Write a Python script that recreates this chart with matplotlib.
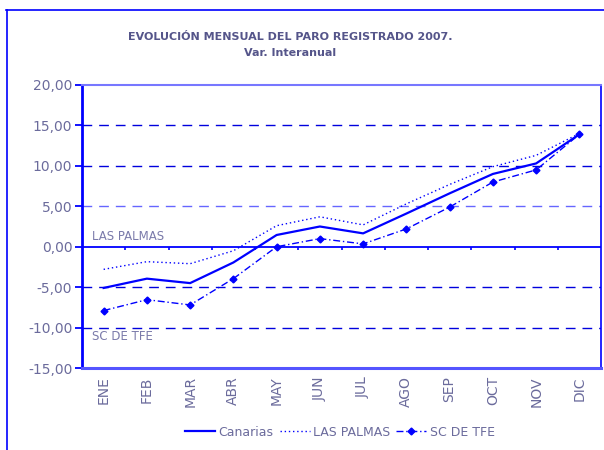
import numpy as np
import matplotlib.pyplot as plt
from matplotlib.lines import Line2D

plt.rcParams['font.family'] = ['DejaVu Sans']

months = ['ENE', 'FEB', 'MAR', 'ABR', 'MAY', 'JUN', 'JUL', 'AGO', 'SEP', 'OCT', 'NOV', 'DIC']
canarias = [-5.1, -3.95, -4.5, -1.95, 1.45, 2.5, 1.65, 4.1, 6.6, 9.0, 10.3, 13.9]
las_palmas = [-2.8, -1.85, -2.1, -0.5, 2.6, 3.7, 2.7, 5.3, 7.7, 9.9, 11.3, 14.0]
sc_tfe = [-7.9, -6.55, -7.2, -3.95, 0.0, 1.0, 0.35, 2.2, 4.9, 8.0, 9.5, 13.9]
yticks = [-15, -10, -5, 0, 5, 10, 15, 20]

txt = '#6b6b9c'
blue = '#0000ff'

fig = plt.figure(figsize=(6.04, 4.5), dpi=100)
ax = fig.add_axes([82/604, 1-368/450, 519/604, 283/450])

x = np.arange(len(months))

# grid lines
for v in yticks:
    if v in (20, -15):
        continue
    if v == 0:
        ax.axhline(v, color=blue, lw=1.3, zorder=1)
    elif v == 5:
        ax.axhline(v, color='#6666ff', lw=1.0, dashes=(7, 5), zorder=1)
    else:
        ax.axhline(v, color='#0000dd', lw=1.0, dashes=(7, 5), zorder=1)

ax.plot(x, canarias, color=blue, lw=1.6, label='Canarias', zorder=3)
ax.plot(x, las_palmas, color=blue, lw=1.0, ls=(0, (1, 2)), label='LAS PALMAS', zorder=3)
ax.plot(x, sc_tfe, color=blue, lw=1.0, ls=(0, (5, 2, 1, 2)), marker='D', ms=3.5,
        label='SC DE TFE', zorder=3)

# boundary ticks on the zero line
ax.vlines(np.arange(0.5, len(months) - 0.5), -0.45, 0, color=blue, lw=1.2, zorder=2)

ax.set_xlim(-0.5, len(months) - 0.5)
ax.set_ylim(-15, 20)
ax.set_yticks(yticks)
ax.set_yticklabels([f'{v:.2f}'.replace('.', ',') for v in yticks], color=txt, fontsize=10)
ax.set_xticks(x)
ax.set_xticklabels(months, rotation=90, color=txt, fontsize=10)
ax.tick_params(axis='x', length=0, pad=6)
ax.tick_params(axis='y', length=5, width=1.3, color=blue, pad=2)

ax.spines['left'].set_color(blue)
ax.spines['left'].set_linewidth(2)
ax.spines['right'].set_color(blue)
ax.spines['right'].set_linewidth(1.2)
ax.spines['top'].set_color('#7777ff')
ax.spines['top'].set_linewidth(1.5)
ax.spines['bottom'].set_color('#5555ff')
ax.spines['bottom'].set_linewidth(2.2)
ax.spines['bottom'].set_linestyle((0, (3, 1)))

ax.text(0.019, 0.463, 'LAS PALMAS', transform=ax.transAxes, color='#7a7aaa', fontsize=8.5,
        va='center', ha='left')
ax.text(0.019, 0.11, 'SC DE TFE', transform=ax.transAxes, color='#7a7aaa', fontsize=8.5,
        va='center', ha='left')

fig.text(290/604, 1-45/450, 'EVOLUCIÓN MENSUAL DEL PARO REGISTRADO 2007.\nVar. Interanual',
         ha='center', va='center', fontsize=8, fontweight='bold', color='#55558a', linespacing=1.7)

leg = fig.legend(loc='center', bbox_to_anchor=(340/604, 1-432/450), ncol=3, frameon=False,
                 fontsize=9, handlelength=2.4, handletextpad=0.25, columnspacing=0.5)
for t in leg.get_texts():
    t.set_color(txt)

# outer frame
fig.add_artist(Line2D([6/604, 1], [1-10/450, 1-10/450], color=blue, lw=1.2))
fig.add_artist(Line2D([7/604, 7/604], [0, 1-10/450], color=blue, lw=1.2))

fig.savefig('out.png', dpi=100)
